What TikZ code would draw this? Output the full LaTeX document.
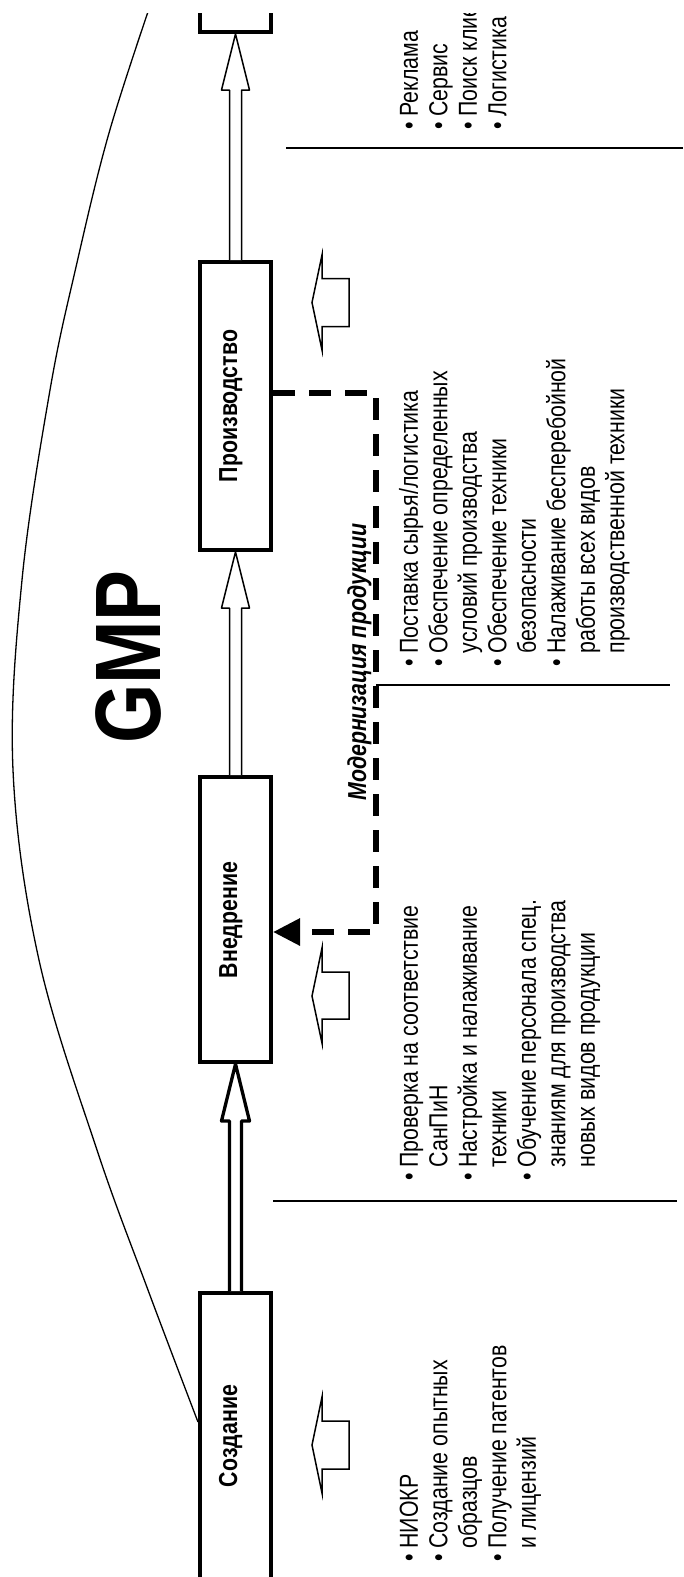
\documentclass[tikz,border=0pt]{standalone}
\usepackage{fontspec}
\setmainfont{Liberation Sans}[FakeStretch=0.82]
\usetikzlibrary{arrows.meta,calc}
\tikzset{
  stage/.style={draw, line width=4pt, minimum width=71pt, inner sep=0pt, fill=white},
  stagelbl/.style={rotate=90, anchor=base, inner sep=0pt, font=\fontsize{26}{30}\selectfont\bfseries},
  listtext/.style={rotate=90, anchor=north west, inner sep=0pt, font=\fontsize{26}{29.5}\selectfont},
  thinline/.style={line width=1.6pt},
  hollow/.style={draw, fill=white, line width=1.5pt, line join=miter},
  blockarrow/.style={draw, fill=white, line join=round},
  modline/.style={line width=6pt, dash pattern=on 22pt off 14pt, -{Triangle[length=27pt,width=26pt]}},
}
\begin{document}
\begin{tikzpicture}[x=1pt,y=-1pt]
\useasboundingbox (0,0) rectangle (683,1577);
\begin{scope}
\clip (0,13) rectangle (683,1577);
% curve
\draw[line width=1.3pt] plot[smooth, tension=0.6] coordinates {(152,0) (109,133) (76,267) (50,390) (22,580) (13,770) (39,960) (97,1150) (148,1290) (198,1422)};
% stage boxes
\node[stage, minimum height=286pt] (top) at (235.5,-111) {};
\node[stage, minimum height=288pt] (prod) at (235.5,406) {};
\node[stage, minimum height=285pt] (vned) at (235.5,919.5) {};
\node[stage, minimum height=286pt] (cre) at (235.5,1436) {};
\node[stagelbl] (prodl) at (237,406) {Производство};
\node[stagelbl] (vnedl) at (237,920) {Внедрение};
\node[stagelbl] (crel) at (237,1436) {Создание};
% block arrows between stages
\draw[blockarrow, line width=3.3pt] ($(cre.north)+(-6,0)$) -- ($(vned.south)+(-6,57)$) -- ($(vned.south)+(-14,57)$) -- (vned.south) -- ($(vned.south)+(14,57)$) -- ($(vned.south)+(6,57)$) -- ($(cre.north)+(6,0)$);
\draw[blockarrow, line width=1.5pt] ($(vned.north)+(-6,0)$) -- ($(prod.south)+(-6,56)$) -- ($(prod.south)+(-14,56)$) -- (prod.south) -- ($(prod.south)+(14,56)$) -- ($(prod.south)+(6,56)$) -- ($(vned.north)+(6,0)$);
\draw[blockarrow, line width=1.5pt] ($(prod.north)+(-6,0)$) -- ($(top.south)+(-6,56)$) -- ($(top.south)+(-14,56)$) -- (top.south) -- ($(top.south)+(14,56)$) -- ($(top.south)+(6,56)$) -- ($(prod.north)+(6,0)$);
% hollow left arrows
\draw[hollow] (312,302.5) -- (322,255) -- (322,278.5) -- (349,278.5) -- (349,326.5) -- (322,326.5) -- (322,350) -- cycle;
\draw[hollow] (312,996) -- (322,948) -- (322,972) -- (349,972) -- (349,1019) -- (322,1019) -- (322,1043) -- cycle;
\draw[hollow] (312,1445) -- (322,1397) -- (322,1421) -- (349,1421) -- (349,1469) -- (322,1469) -- (322,1493) -- cycle;
% modernisation loop
\coordinate (c1) at (376,393);
\coordinate (c2) at (376,932);
\draw[modline] (prod.east |- c1) -- (c1) -- (c2) -- (vned.east |- c2);
% separators
\draw[thinline] (286,148) -- (683,148);
\draw[thinline] (376,685) -- (670,685);
\draw[thinline] (273,1201) -- (677,1201);
% titles
\node[rotate=90, anchor=base, inner sep=0pt, font=\fontsize{93}{100}\selectfont\bfseries] (gmp) at (160,657) {GMP};
\node[rotate=90, anchor=base, inner sep=0pt, font=\fontsize{26}{30}\selectfont\bfseries\itshape] (mod) at (366,662) {Модернизация продукции};
% lists
\node[listtext] (lsale) at (397,130) {\begin{tabular}{@{}l@{\ }l@{}}
•&Реклама\\
•&Сервис\\
•&Поиск клиентов\\
•&Логистика
\end{tabular}};
\node[listtext] (lprod) at (397,667) {\begin{tabular}{@{}l@{\ }l@{}}
•&Поставка сырья/логистика\\
•&Обеспечение определенных\\
&условий производства\\
•&Обеспечение техники\\
&безопасности\\
•&Налаживание бесперебойной\\
&работы всех видов\\
&производственной техники
\end{tabular}};
\node[listtext] (lvned) at (397,1181) {\begin{tabular}{@{}l@{\ }l@{}}
•&Проверка на соответствие\\
&СанПиН\\
•&Настройка и налаживание\\
&техники\\
•&Обучение персонала спец.\\
&знаниям для производства\\
&новых видов продукции
\end{tabular}};
\node[listtext] (lcre) at (397,1562) {\begin{tabular}{@{}l@{\ }l@{}}
•&НИОКР\\
•&Создание опытных\\
&образцов\\
•&Получение патентов\\
&и лицензий
\end{tabular}};
\end{scope}
\end{tikzpicture}
\end{document}
